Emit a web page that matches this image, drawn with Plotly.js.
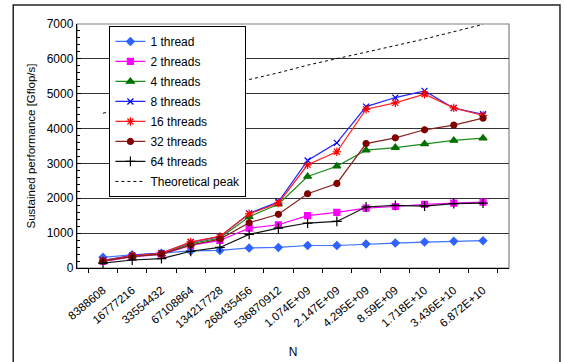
<!DOCTYPE html>
<html>
<head>
<meta charset="utf-8">
<script src="https://cdn.plot.ly/plotly-3.0.1.min.js"></script>
<style>
html,body{margin:0;padding:0;background:#fff;}
#chart{width:565px;height:362px;}
</style>
</head>
<body>
<div id="chart"></div>
<script>
const categories = ["8388608","16777216","33554432","67108864","134217728","268435456","536870912","1.074E+09","2.147E+09","4.295E+09","8.59E+09","1.718E+10","3.436E+10","6.872E+10"];
const thread1  = [305, 380, 425, 490, 505, 575, 590, 645, 645, 690, 715, 745, 765, 785];
const threads2 = [190, 320, 390, 650, 790, 1145, 1240, 1500, 1595, 1720, 1765, 1825, 1860, 1890];
const threads4 = [200, 340, 400, 700, 860, 1470, 1830, 2625, 2920, 3380, 3455, 3560, 3660, 3725];
const threads8 = [220, 360, 430, 740, 900, 1565, 1900, 3085, 3590, 4630, 4890, 5080, 4585, 4410];
const threads16 = [210, 350, 420, 750, 905, 1555, 1860, 2960, 3335, 4555, 4735, 4985, 4595, 4375];
const threads32 = [195, 330, 400, 660, 830, 1300, 1540, 2130, 2425, 3570, 3735, 3965, 4100, 4300];
const threads64 = [140, 230, 268, 480, 590, 965, 1145, 1290, 1335, 1750, 1795, 1775, 1845, 1860];
const peak = [4440, 4630, 4820, 5010, 5200, 5390, 5600, 5820, 6000, 6190, 6380, 6570, 6770, 6990];
const seriesNames = ["1 thread","2 threads","4 threads","8 threads","16 threads","32 threads","64 threads","Theoretical peak"];

const styles = [
  {line:"#3f73ff", mcolor:"#2f63ff", symbol:"diamond", size:6},
  {line:"#ff00ff", mcolor:"#ff00ff", symbol:"square", size:6},
  {line:"#1a8c1a", mcolor:"#007000", symbol:"triangle-up", size:7},
  {line:"#2222ff", mcolor:"#0000ff", symbol:"x-thin-open", size:6},
  {line:"#ff2020", mcolor:"#ff0000", symbol:"asterisk-open", size:7},
  {line:"#8b2020", mcolor:"#800000", symbol:"circle", size:6},
  {line:"#111111", mcolor:"#000000", symbol:"cross-thin-open", size:7}
];
const data = [thread1, threads2, threads4, threads8, threads16, threads32, threads64];
const traces = data.map((ys, i) => ({
  x: categories, y: ys, type: "scatter", mode: "lines+markers",
  name: seriesNames[i], legendgroup: "g" + i,
  line: {color: styles[i].line, width: 1.2},
  marker: {color: styles[i].mcolor, symbol: styles[i].symbol, size: styles[i].size,
           line: {color: styles[i].mcolor, width: 1.2}}
}));
traces.push({
  x: categories, y: peak, type: "scatter", mode: "lines",
  name: seriesNames[7], legendgroup: "g7",
  line: {color: "#000000", width: 1, dash: "dot"}
});

const font = {family: "Liberation Sans, Arial, sans-serif", size: 11, color: "#000"};
const layout = {
  width: 565, height: 362,
  margin: {l: 77, r: 56, t: 24, b: 94},
  paper_bgcolor: "#fff", plot_bgcolor: "#fff",
  font: font,
  showlegend: true,
  legend: {
    x: 0.075, y: 0.992, xanchor: "left", yanchor: "top",
    bgcolor: "#fff", bordercolor: "#000", borderwidth: 1,
    font: {family: "Liberation Sans, Arial, sans-serif", size: 12, color: "#000"},
    traceorder: "grouped", tracegroupgap: 1, itemwidth: 30
  },
  xaxis: {
    type: "category", tickangle: -40, tickson: "boundaries",
    ticks: "outside", ticklen: 4, tickcolor: "#000",
    showline: true, linecolor: "#000", linewidth: 1.2,
    showgrid: false, zeroline: false, ticklabelstandoff: 10,
    tickfont: {family: "Liberation Sans, Arial, sans-serif", size: 11.5},
    title: {text: "N", font: {size: 12}, standoff: 18}
  },
  yaxis: {
    range: [0, 7000], dtick: 1000, tickformat: "d",
    ticks: "inside", ticklen: 4, tickcolor: "#000",
    minor: {dtick: 200, ticks: "inside", ticklen: 3, tickcolor: "#000", showgrid: false},
    showline: true, linecolor: "#000", linewidth: 1.2,
    showgrid: true, gridcolor: "#333", gridwidth: 1.2, zeroline: false,
    tickfont: {family: "Liberation Sans, Arial, sans-serif", size: 12},
    title: {text: "Sustained performance [Gflop/s]", font: {size: 11.5}, standoff: 8}
  },
  shapes: [
    {type: "rect", xref: "paper", yref: "paper", x0: 0, x1: 1, y0: 0, y1: 1,
     line: {color: "#808080", width: 1.2}, layer: "below"},
    {type: "rect", xref: "paper", yref: "paper", x0: -0.1476, x1: 1.118, y0: -0.45, y1: 1.078,
     line: {color: "#222", width: 1.5}}
  ]
};
Plotly.newPlot("chart", traces, layout, {displayModeBar: false, staticPlot: true});
</script>
</body>
</html>
